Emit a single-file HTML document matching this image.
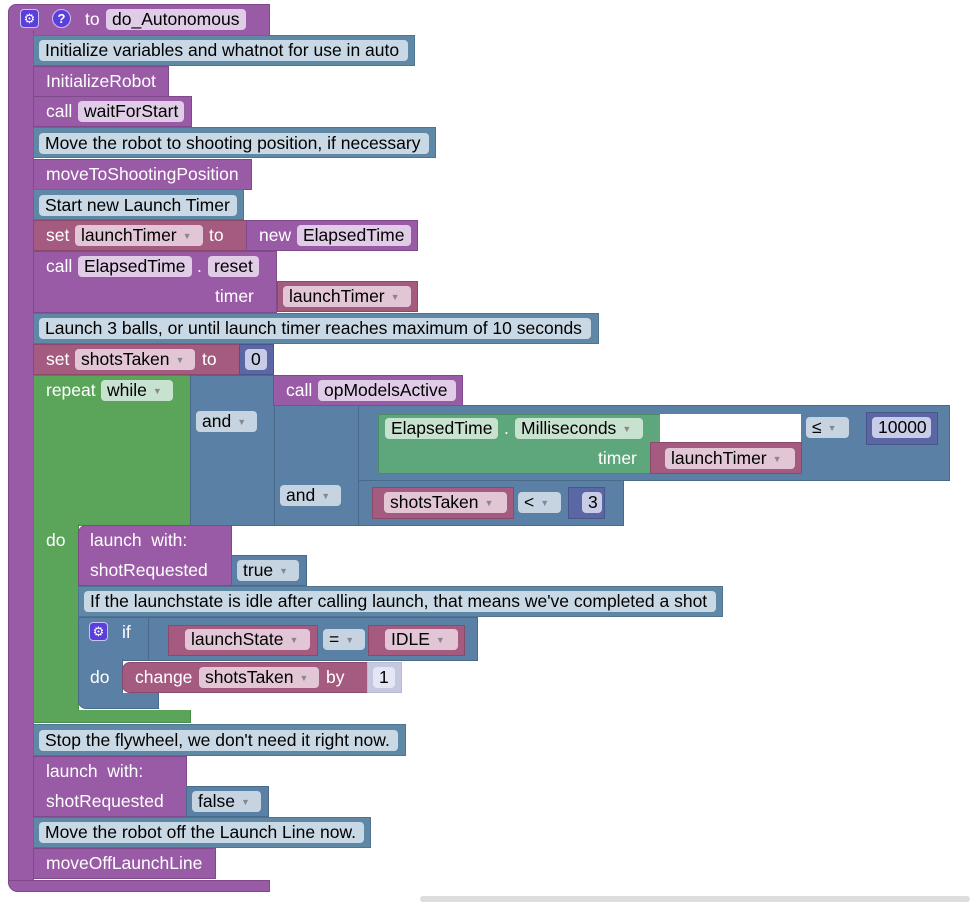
<!DOCTYPE html>
<html><head><meta charset="utf-8"><style>
body{margin:0;width:970px;height:900px;background:#fff;position:relative;overflow:hidden;font-family:"Liberation Sans",Arial,sans-serif;font-size:17.5px}
div{position:absolute;box-sizing:border-box;white-space:nowrap}
.p{background:#995ba5;border:1px solid #7f4a8a}
.c{background:#5f87a6;border:1px solid #4f7491}
.r{background:#a55b80;border:1px solid #8a4a6a}
.g{background:#5ba55b;border:1px solid #4a8a4a}
.eg{background:#5ea67c;border:1px solid #4a8a66}
.lb{background:#5b80a5;border:1px solid #4a6a8a}
.n{background:#5b67a5;border:1px solid #4a558a}
.t{color:#fff;line-height:20px;height:20px}
.f{height:21px;line-height:21px;border-radius:4px;padding-left:6px;color:#000;overflow:hidden}
.fp{background:#e0cce6}
.fc{background:#c8d8e4}
.fr{background:#e2c6d6}
.fg{background:#c8e2d0}
.fb{background:#c6d4e2}
.fn{background:#c8cce6}
.a{font-size:9px;color:#888;margin-left:6px;vertical-align:2px}
.ic{width:19px;height:19px;background:#5b3fd9;border:1px solid #c8c0ff;border-radius:4px;color:#fff;font-size:13px;line-height:17px;text-align:center}
</style></head><body>
<div class="p" style="left:8px;top:4px;width:262px;height:32px;border-radius:8px 0 0 0"></div>
<div class="p" style="left:8px;top:30px;width:26px;height:862px;border-top:none;border-radius:0 0 0 10px"></div>
<div class="p" style="left:8px;top:880px;width:262px;height:12px;border-radius:0 0 0 10px"></div>
<div class="ic" style="left:20px;top:9px">⚙</div>
<div class="ic" style="left:52px;top:9px;border-radius:50%;font-weight:bold">?</div>
<div class="t" style="left:85px;top:9px">to</div>
<div class="f fp" style="left:106px;top:9px;width:140px">do_Autonomous</div>

<div class="c" style="left:33px;top:35px;width:382px;height:31px"></div>
<div class="f fc" style="left:39px;top:40px;width:369px">Initialize variables and whatnot for use in auto</div>
<div class="p" style="left:33px;top:66px;width:136px;height:31px"></div>
<div class="t" style="left:46px;top:71px">InitializeRobot</div>
<div class="p" style="left:33px;top:96px;width:159px;height:31px"></div>
<div class="t" style="left:46px;top:101px">call</div>
<div class="f fp" style="left:78px;top:101px;width:106px">waitForStart</div>
<div class="c" style="left:33px;top:127px;width:403px;height:31px"></div>
<div class="f fc" style="left:39px;top:133px;width:390px">Move the robot to shooting position, if necessary</div>
<div class="p" style="left:33px;top:159px;width:219px;height:31px"></div>
<div class="t" style="left:46px;top:164px">moveToShootingPosition</div>
<div class="c" style="left:33px;top:189px;width:211px;height:31px"></div>
<div class="f fc" style="left:39px;top:195px;width:198px">Start new Launch Timer</div>

<div class="r" style="left:33px;top:220px;width:214px;height:31px"></div>
<div class="t" style="left:46px;top:225px">set</div>
<div class="f fr" style="left:75px;top:225px;width:128px">launchTimer<span class="a">▼</span></div>
<div class="t" style="left:209px;top:225px">to</div>
<div class="p" style="left:246px;top:220px;width:172px;height:31px"></div>
<div class="t" style="left:259px;top:225px">new</div>
<div class="f fp" style="left:297px;top:225px;width:114px">ElapsedTime</div>

<div class="p" style="left:33px;top:251px;width:244px;height:62px"></div>
<div class="t" style="left:46px;top:256px">call</div>
<div class="f fp" style="left:78px;top:256px;width:114px">ElapsedTime</div>
<div class="t" style="left:197px;top:256px">.</div>
<div class="f fp" style="left:208px;top:256px;width:51px">reset</div>
<div class="t" style="left:215px;top:286px">timer</div>
<div class="r" style="left:277px;top:281px;width:141px;height:31px"></div>
<div class="f fr" style="left:283px;top:286px;width:128px">launchTimer<span class="a">▼</span></div>

<div class="c" style="left:33px;top:313px;width:566px;height:31px"></div>
<div class="f fc" style="left:39px;top:318px;width:552px">Launch 3 balls, or until launch timer reaches maximum of 10 seconds</div>

<div class="r" style="left:33px;top:344px;width:207px;height:31px"></div>
<div class="t" style="left:46px;top:349px">set</div>
<div class="f fr" style="left:75px;top:349px;width:120px">shotsTaken<span class="a">▼</span></div>
<div class="t" style="left:202px;top:349px">to</div>
<div class="n" style="left:239px;top:344px;width:35px;height:31px"></div>
<div class="f fn" style="left:245px;top:349px;width:22px">0</div>

<div class="g" style="left:33px;top:375px;width:158px;height:151px"></div>
<div class="g" style="left:33px;top:524px;width:46px;height:188px;border-top:none"></div>
<div class="g" style="left:33px;top:710px;width:158px;height:13px;border-top:none"></div>
<div class="t" style="left:46px;top:380px">repeat</div>
<div class="f fg" style="left:101px;top:380px;width:72px">while<span class="a">▼</span></div>
<div class="t" style="left:46px;top:530px">do</div>

<div class="lb" style="left:190px;top:375px;width:85px;height:151px"></div>
<div class="f fb" style="left:196px;top:411px;width:61px">and<span class="a">▼</span></div>
<div class="p" style="left:273px;top:375px;width:190px;height:31px"></div>
<div class="t" style="left:286px;top:380px">call</div>
<div class="f fp" style="left:318px;top:380px;width:138px">opModelsActive</div>

<div class="lb" style="left:274px;top:405px;width:85px;height:121px"></div>
<div class="f fb" style="left:280px;top:485px;width:61px">and<span class="a">▼</span></div>
<div class="lb" style="left:358px;top:405px;width:592px;height:76px"></div>
<div class="eg" style="left:378px;top:414px;width:283px;height:60px"></div>
<div style="left:660px;top:414px;width:141px;height:28px;background:#fff"></div>
<div class="f fg" style="left:385px;top:418px;width:113px">ElapsedTime</div>
<div class="t" style="left:504px;top:418px">.</div>
<div class="f fg" style="left:515px;top:418px;width:128px">Milliseconds<span class="a">▼</span></div>
<div class="t" style="left:598px;top:448px">timer</div>
<div class="r" style="left:650px;top:442px;width:152px;height:32px"></div>
<div class="f fr" style="left:665px;top:448px;width:130px">launchTimer<span class="a">▼</span></div>
<div class="f fb" style="left:806px;top:417px;width:43px">≤<span class="a">▼</span></div>
<div class="n" style="left:866px;top:412px;width:72px;height:33px"></div>
<div class="f fn" style="left:872px;top:417px;width:59px">10000</div>

<div class="lb" style="left:358px;top:480px;width:266px;height:46px"></div>
<div class="r" style="left:372px;top:487px;width:142px;height:32px"></div>
<div class="f fr" style="left:384px;top:492px;width:123px">shotsTaken<span class="a">▼</span></div>
<div class="f fb" style="left:518px;top:492px;width:43px">&lt;<span class="a">▼</span></div>
<div class="n" style="left:568px;top:487px;width:37px;height:32px"></div>
<div class="f fn" style="left:582px;top:492px;width:20px">3</div>

<div class="p" style="left:78px;top:525px;width:154px;height:61px;border-radius:8px 0 0 0"></div>
<div class="t" style="left:90px;top:530px">launch&nbsp;&nbsp;with:</div>
<div class="t" style="left:90px;top:560px">shotRequested</div>
<div class="lb" style="left:231px;top:555px;width:76px;height:31px"></div>
<div class="f fb" style="left:237px;top:560px;width:62px">true<span class="a">▼</span></div>

<div class="c" style="left:78px;top:586px;width:645px;height:31px"></div>
<div class="f fc" style="left:84px;top:591px;width:632px">If the launchstate is idle after calling launch, that means we've completed a shot</div>

<div class="lb" style="left:78px;top:617px;width:400px;height:44px"></div>
<div class="lb" style="left:78px;top:659px;width:45px;height:40px;border-top:none"></div>
<div class="lb" style="left:78px;top:693px;width:81px;height:16px;border-top:none;border-radius:0 0 0 8px"></div>
<div class="ic" style="left:89px;top:622px">⚙</div>
<div class="t" style="left:122px;top:622px">if</div>
<div class="lb" style="left:148px;top:617px;width:330px;height:44px"></div>
<div class="r" style="left:168px;top:625px;width:150px;height:31px"></div>
<div class="f fr" style="left:185px;top:629px;width:125px">launchState<span class="a">▼</span></div>
<div class="f fb" style="left:323px;top:629px;width:42px">=<span class="a">▼</span></div>
<div class="r" style="left:368px;top:625px;width:97px;height:31px"></div>
<div class="f fr" style="left:385px;top:629px;width:73px">IDLE<span class="a">▼</span></div>
<div class="t" style="left:90px;top:667px">do</div>
<div class="r" style="left:122px;top:662px;width:246px;height:31px;border-radius:8px 0 0 8px"></div>
<div class="t" style="left:135px;top:667px">change</div>
<div class="f fr" style="left:199px;top:667px;width:120px">shotsTaken<span class="a">▼</span></div>
<div class="t" style="left:326px;top:667px">by</div>
<div style="left:367px;top:662px;width:35px;height:31px;background:#c6c8e0;border:1px solid #b8bad4"></div>
<div class="f" style="left:373px;top:667px;width:22px;background:#e4e6f4">1</div>

<div class="c" style="left:33px;top:724px;width:373px;height:32px"></div>
<div class="f fc" style="left:39px;top:730px;width:359px">Stop the flywheel, we don't need it right now.</div>
<div class="p" style="left:33px;top:756px;width:154px;height:61px"></div>
<div class="t" style="left:46px;top:761px">launch&nbsp;&nbsp;with:</div>
<div class="t" style="left:46px;top:791px">shotRequested</div>
<div class="lb" style="left:186px;top:786px;width:83px;height:31px"></div>
<div class="f fb" style="left:192px;top:791px;width:69px">false<span class="a">▼</span></div>
<div class="c" style="left:33px;top:817px;width:338px;height:31px"></div>
<div class="f fc" style="left:39px;top:822px;width:325px">Move the robot off the Launch Line now.</div>
<div class="p" style="left:33px;top:848px;width:183px;height:31px"></div>
<div class="t" style="left:46px;top:853px">moveOffLaunchLine</div>

<div style="left:420px;top:896px;width:550px;height:6px;background:#ddd;border-radius:3px"></div>
</body></html>
